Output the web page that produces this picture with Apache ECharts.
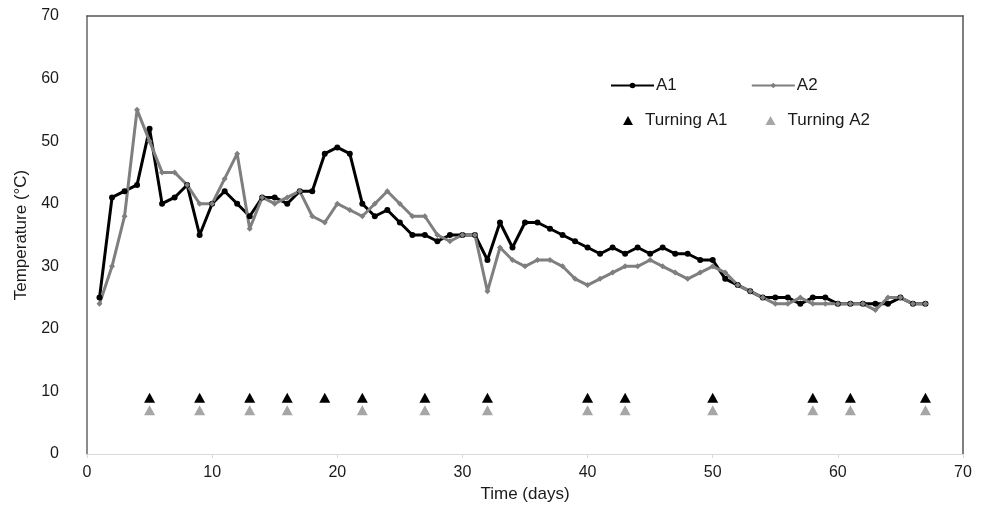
<!DOCTYPE html>
<html>
<head>
<meta charset="utf-8">
<script src="https://cdn.jsdelivr.net/npm/echarts@6/dist/echarts.min.js"></script>
<style>
  html, body { margin: 0; padding: 0; background: #fff; }
  #ch1 { width: 987px; height: 511px; }
</style>
</head>
<body>
<div id="ch1"></div>
<script>
const days = [1, 2, 3, 4, 5, 6, 7, 8, 9, 10, 11, 12, 13, 14, 15, 16, 17, 18, 19, 20,
  21, 22, 23, 24, 25, 26, 27, 28, 29, 30, 31, 32, 33, 34, 35, 36, 37, 38, 39, 40,
  41, 42, 43, 44, 45, 46, 47, 48, 49, 50, 51, 52, 53, 54, 55, 56, 57, 58, 59, 60,
  61, 62, 63, 64, 65, 66, 67];

const a1 = [25, 41, 42, 43, 52, 40, 41, 43, 35, 40, 42, 40, 38, 41, 41, 40, 42, 42, 48, 49,
  48, 40, 38, 39, 37, 35, 35, 34, 35, 35, 35, 31, 37, 33, 37, 37, 36, 35, 34, 33,
  32, 33, 32, 33, 32, 33, 32, 32, 31, 31, 28, 27, 26, 25, 25, 25, 24, 25, 25, 24,
  24, 24, 24, 24, 25, 24, 24];

const a2 = [24, 30, 38, 55, 50, 45, 45, 43, 40, 40, 44, 48, 36, 41, 40, 41, 42, 38, 37, 40,
  39, 38, 40, 42, 40, 38, 38, 35, 34, 35, 35, 26, 33, 31, 30, 31, 31, 30, 28, 27,
  28, 29, 30, 30, 31, 30, 29, 28, 29, 30, 29, 27, 26, 25, 24, 24, 25, 24, 24, 24,
  24, 24, 23, 25, 25, 24, 24];

const turningA1Days = [5, 9, 13, 16, 19, 22, 27, 32, 40, 43, 50, 58, 61, 67];
const turningA1Level = 9;
const turningA2Days = [5, 9, 13, 16, 22, 27, 32, 40, 43, 50, 58, 61, 67];
const turningA2Level = 7;

const xTicks = [0, 10, 20, 30, 40, 50, 60, 70];
const yTicks = [0, 10, 20, 30, 40, 50, 60, 70];

const pairs = (xs, ys) => xs.map((x, i) => [x, ys[i]]);
const level = (xs, v) => xs.map((x) => [x, v]);

const cht1 = echarts.init(document.getElementById('ch1'));

const font = 'Liberation Sans, Arial, sans-serif';
const textStyle = { fontFamily: font, fontSize: 16, color: '#1a1a1a' };
const nameStyle = { ...textStyle, fontSize: 17 };

const options1 = {
  animation: false,
  textStyle,
  grid: {
    left: 87,
    right: 24,
    top: 16,
    bottom: 57,
  },
  legend: [
    {
      data: ['A1', 'A2'],
      left: 605,
      top: 72,
      itemWidth: 43,
      itemHeight: 7,
      itemGap: 74,
      textStyle: { ...nameStyle, padding: [0, 0, 0, -3] },
    },
    {
      data: ['Turning A1', 'Turning A2'],
      left: 618,
      top: 107,
      itemWidth: 10,
      itemHeight: 9,
      itemGap: 38,
      textStyle: { ...nameStyle, padding: [0, 0, 0, 7] },
    },
  ],
  xAxis: [
    {
      type: 'value',
      min: xTicks[0],
      max: xTicks[xTicks.length - 1],
      interval: 10,
      name: 'Time (days)',
      nameLocation: 'middle',
      nameGap: 31,
      nameTextStyle: nameStyle,
      axisLine: { onZero: false, lineStyle: { color: '#d9d9d9', width: 1 } },
      axisTick: { show: true, length: 4, lineStyle: { color: '#d9d9d9' } },
      axisLabel: { ...textStyle, margin: 11 },
      splitLine: { show: false },
    },
    {
      type: 'value',
      position: 'top',
      min: 0,
      max: 70,
      axisLine: { show: true, onZero: false, lineStyle: { color: '#555', width: 1.5 } },
      axisTick: { show: false },
      axisLabel: { show: false },
      splitLine: { show: false },
    },
  ],
  yAxis: [
    {
      type: 'value',
      min: yTicks[0],
      max: yTicks[yTicks.length - 1],
      interval: 10,
      name: 'Temperature (°C)',
      nameLocation: 'middle',
      nameGap: 57,
      nameTextStyle: nameStyle,
      axisLine: { show: true, onZero: false, lineStyle: { color: '#666', width: 1.5 } },
      axisTick: { show: false },
      axisLabel: { ...textStyle, margin: 28 },
      splitLine: { show: false },
    },
    {
      type: 'value',
      position: 'right',
      min: 0,
      max: 70,
      axisLine: { show: true, onZero: false, lineStyle: { color: '#555', width: 1.5 } },
      axisTick: { show: false },
      axisLabel: { show: false },
      splitLine: { show: false },
    },
  ],
  series: [
    {
      name: 'A1',
      type: 'line',
      data: pairs(days, a1),
      symbol: 'circle',
      symbolSize: 6,
      lineStyle: { color: '#000', width: 3 },
      itemStyle: { color: '#000' },
    },
    {
      name: 'A2',
      type: 'line',
      data: pairs(days, a2),
      symbol: 'diamond',
      symbolSize: 6,
      lineStyle: { color: '#7f7f7f', width: 3 },
      itemStyle: { color: '#7f7f7f' },
    },
    {
      name: 'Turning A1',
      type: 'scatter',
      data: level(turningA1Days, turningA1Level),
      symbol: 'triangle',
      symbolSize: [11, 10],
      itemStyle: { color: '#000', opacity: 1 },
    },
    {
      name: 'Turning A2',
      type: 'scatter',
      data: level(turningA2Days, turningA2Level),
      symbol: 'triangle',
      symbolSize: [11, 10],
      itemStyle: { color: '#a6a6a6', opacity: 1 },
    },
  ],
};
cht1.setOption(options1);
</script>
</body>
</html>
